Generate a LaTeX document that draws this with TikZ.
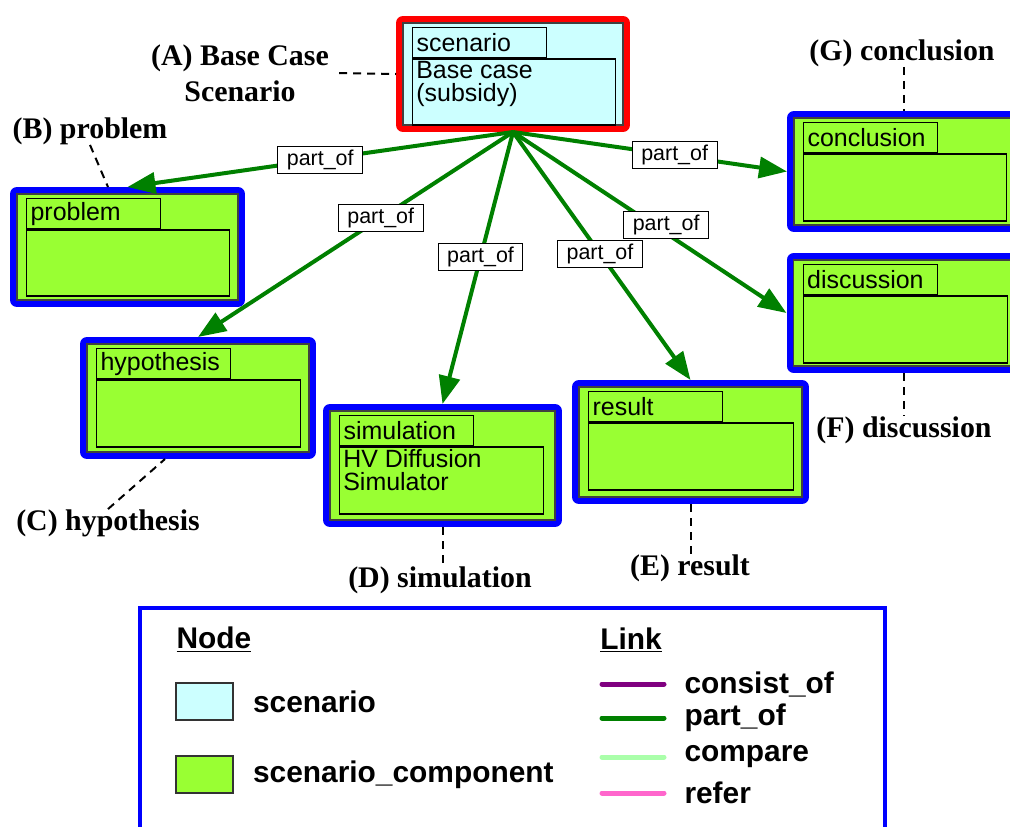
\documentclass[tikz,border=0pt]{standalone}
\usepackage{fontspec}
\setmainfont{Liberation Sans}
\newfontfamily\capfont{Liberation Serif}
\usetikzlibrary{arrows.meta, positioning}

\definecolor{scncyan}{HTML}{CCFFFF}
\definecolor{compgreen}{HTML}{99FF33}
\definecolor{linkgreen}{HTML}{008000}
\definecolor{linkpurple}{HTML}{800080}
\definecolor{linkmint}{HTML}{AAFFAA}
\definecolor{linkpink}{HTML}{FF66CC}

\newcommand{\boxfont}{\fontsize{14.2}{12.8}\selectfont}
\newcommand{\lblfont}{\fontsize{12.2}{14}\selectfont}
\newcommand{\keyfont}{\bfseries\fontsize{17}{20}\selectfont}

\tikzset{
  scnbox/.style={draw=black!75, line width=0.25mm, fill=scncyan, outer sep=1.4mm,
    preaction={draw=red, line width=2.8mm, line join=round}},
  compbox/.style={draw=black!75, line width=0.25mm, fill=compgreen, outer sep=1.4mm,
    preaction={draw=blue, line width=2.8mm, line join=round}},
  tabbox/.style={draw=black, line width=0.25mm, anchor=north west, minimum width=26.8mm,
    minimum height=6mm, text width=25.2mm, inner xsep=0.8mm, inner ysep=0, align=left, font=\boxfont},
  bodybox/.style={draw=black, line width=0.25mm, anchor=north west, inner sep=0},
  bodytext/.style={anchor=north west, inner xsep=0.8mm, inner ysep=0.6mm, align=left, font=\boxfont},
  partof/.style={draw=linkgreen, line width=0.8mm, -{Triangle[length=5.6mm, width=4.2mm]}},
  lbl/.style={draw=black, line width=0.2mm, fill=white, inner xsep=1.8mm, inner ysep=0,
    minimum height=5.4mm, font=\lblfont},
  capnode/.style={font=\capfont\bfseries\fontsize{17}{20.5}\selectfont, align=center, inner sep=0},
  leaderline/.style={draw=black, line width=0.4mm, dash pattern=on 1.6mm off 1.2mm},
  legendframe/.style={draw=blue, line width=0.8mm, anchor=north west},
  swatch/.style={draw=black!80, line width=0.3mm, minimum width=11.4mm, minimum height=7.4mm, inner sep=0},
  keytext/.style={font=\keyfont, inner sep=0},
  keyline/.style={line width=1mm, line cap=round}
}

\begin{document}
\begin{tikzpicture}[x=0.2mm, y=-0.2mm]
  \useasboundingbox (0,0) rectangle (1010,826);

  % scenario node (A)
  \node[scnbox, minimum width=44mm, minimum height=20.4mm] (base) at (513,74) {};
  \node[tabbox] (basetab) at ([shift={(16,11)}]base.north west) {scenario};
  \node[bodybox, minimum width=40.6mm, minimum height=13.2mm] (basebody) at (basetab.south west) {};
  \node[bodytext] (basetext) at (basebody.north west) {Base case\\(subsidy)};

  % component nodes
  \node[compbox, minimum width=44.2mm, minimum height=21.2mm] (prob) at (127.5,247) {};
  \node[tabbox] (probtab) at ([shift={(16,11)}]prob.north west) {problem};
  \node[bodybox, minimum width=40.6mm, minimum height=13.2mm] (probbody) at (probtab.south west) {};

  \node[compbox, minimum width=44.4mm, minimum height=21.6mm] (hyp) at (198,398) {};
  \node[tabbox] (hyptab) at ([shift={(16,11)}]hyp.north west) {hypothesis};
  \node[bodybox, minimum width=40.8mm, minimum height=13.4mm] (hypbody) at (hyptab.south west) {};

  \node[compbox, minimum width=45mm, minimum height=21.8mm] (sim) at (442.5,465.5) {};
  \node[tabbox] (simtab) at ([shift={(16,11)}]sim.north west) {simulation};
  \node[bodybox, minimum width=40.8mm, minimum height=13.4mm] (simbody) at (simtab.south west) {};
  \node[bodytext] (simtext) at (simbody.north west) {HV Diffusion\\Simulator};

  \node[compbox, minimum width=44.6mm, minimum height=22mm] (res) at (690.5,442) {};
  \node[tabbox] (restab) at ([shift={(16,11)}]res.north west) {result};
  \node[bodybox, minimum width=41mm, minimum height=13.4mm] (resbody) at (restab.south west) {};

  \node[compbox, minimum width=44mm, minimum height=21.2mm] (disc) at (903.5,313) {};
  \node[tabbox] (disctab) at ([shift={(16,11)}]disc.north west) {discussion};
  \node[bodybox, minimum width=40.8mm, minimum height=13.4mm] (discbody) at (disctab.south west) {};

  \node[compbox, minimum width=44mm, minimum height=21.4mm] (conc) at (904,171.5) {};
  \node[tabbox] (conctab) at ([shift={(16,11)}]conc.north west) {conclusion};
  \node[bodybox, minimum width=40.6mm, minimum height=13.4mm] (concbody) at (conctab.south west) {};

  % part_of links
  \draw[partof] (base.south) -- (prob.north) node[lbl, pos=0.5] (l1) {part\_of};
  \draw[partof] (base.south) -- (hyp.north) node[lbl, pos=0.42] (l2) {part\_of};
  \draw[partof] (base.south) -- (sim.north) node[lbl, pos=0.46] (l3) {part\_of};
  \draw[partof] (base.south) -- (res.north) node[lbl, pos=0.49] (l4) {part\_of};
  \draw[partof] (base.south) -- (disc.west) node[lbl, pos=0.56, yshift=1.6mm] (l5) {part\_of};
  \draw[partof] (base.south) -- (conc.west) node[lbl, pos=0.59] (l6) {part\_of};

  % callouts
  \node[capnode] (capA) at (240,73) {(A) Base Case\\Scenario};
  \node[capnode] (capB) at (90,131) {(B) problem};
  \node[capnode] (capC) at (108,523) {(C) hypothesis};
  \node[capnode] (capD) at (440,580) {(D) simulation};
  \node[capnode] (capE) at (690,568) {(E) result};
  \node[capnode] (capF) at (904,430) {(F) discussion};
  \node[capnode] (capG) at (902,53) {(G) conclusion};

  \draw[leaderline] ([xshift=2mm]capA.east) -- (base.west);
  \draw[leaderline] (capB.south) -- ([xshift=-3.9mm]prob.north);
  \draw[leaderline] (capC.north) -- ([xshift=-6.6mm]hyp.south);
  \draw[leaderline] (sim.south) -- (sim.south |- capD.north);
  \draw[leaderline] (res.south) -- (res.south |- capE.north);
  \draw[leaderline] (disc.south) -- (disc.south |- capF.north);
  \draw[leaderline] (conc.north |- capG.south) -- (conc.north);

  % legend
  \node[legendframe, minimum width=149mm, minimum height=50mm] (legend) at (138,606) {};
  \node[keytext] (nodehead) at (214,640) {\underline{Node}};
  \node[keytext] (linkhead) at (631,640) {\underline{Link}};
  \node[swatch, fill=scncyan] (keyscn) at (204.5,701.5) {};
  \node[keytext, right=3.8mm of keyscn] (keyscntext) {scenario};
  \node[swatch, fill=compgreen] (keycomp) at (204.5,774.5) {};
  \node[keytext, right=3.8mm of keycomp] (keycomptext) {scenario\_component};
  \foreach \col/\txt/\yy in {linkpurple/consist\_of/684, linkgreen/part\_of/718,
                             linkmint/compare/757, linkpink/refer/793}
    \draw[keyline, draw=\col] (602,\yy) -- (664,\yy) node[keytext, right=3.6mm] (key\yy) {\txt};
\end{tikzpicture}
\end{document}
